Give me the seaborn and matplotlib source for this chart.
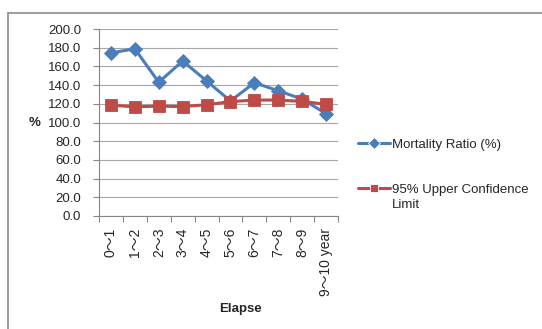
import matplotlib
matplotlib.use("Agg")
import matplotlib.pyplot as plt
from matplotlib.lines import Line2D
import seaborn as sns
import pandas as pd
import numpy as np

categories = ["0～1", "1～2", "2～3", "3～4", "4～5", "5～6", "6～7", "7～8", "8～9", "9～10 year"]
mortality_ratio = [174.5, 178.8, 143.0, 165.8, 144.5, 123.0, 142.5, 134.0, 125.0, 109.5]
upper_limit = [118.5, 116.8, 117.5, 117.0, 119.0, 122.3, 124.0, 124.0, 122.5, 119.5]
series_names = ["Mortality Ratio (%)", "95% Upper Confidence Limit"]

sns.set_theme(style="white")
plt.rcParams['font.family'] = ['Liberation Sans', 'Noto Sans CJK JP', 'DejaVu Sans']

df = pd.DataFrame({
    "x": list(range(len(categories))) * 2,
    "value": mortality_ratio + upper_limit,
    "series": [series_names[0]] * len(categories) + [series_names[1]] * len(categories),
})

W, H = 542, 329
fig = plt.figure(figsize=(W / 100, H / 100), dpi=100)
ax = fig.add_axes([99 / W, 1 - 216 / H, (338 - 99) / W, (216 - 29) / H])

palette = {series_names[0]: "#4A7EBB", series_names[1]: "#BE4B48"}
sns.lineplot(data=df, x="x", y="value", hue="series", style="series",
             markers={series_names[0]: "D", series_names[1]: "s"},
             dashes=False, palette=palette, sort=False, ax=ax,
             linewidth=2.2, markeredgewidth=0.6, legend=True)
for line, ms in zip(ax.get_lines()[:2], [7, 8.5]):
    line.set_markersize(ms)
    line.set_markeredgecolor(line.get_color())

ax.set_ylim(0, 200)
yt = np.arange(0, 201, 20)
ax.set_yticks(yt)
ax.set_yticklabels([f"{v:.1f}" for v in yt], fontsize=9.5)
ax.set_xlim(-0.5, len(categories) - 0.5)
ax.set_xticks(range(len(categories)))
ax.set_xticklabels(categories, rotation=90, fontsize=10)
ax.set_xticks(np.arange(-0.5, len(categories), 1), minor=True)
ax.tick_params(axis="x", which="major", length=0, pad=8.5)
ax.tick_params(axis="x", which="minor", length=4.5, width=0.8, color="#868686", direction="out", bottom=True)
ax.tick_params(axis="y", length=4.3, width=0.8, color="#868686", direction="out", left=True, pad=8.6)

ax.grid(axis="y", color="#A6A6A6", linewidth=0.8)
ax.set_axisbelow(True)
for s in ["top", "right"]:
    ax.spines[s].set_visible(False)
for s in ["left", "bottom"]:
    ax.spines[s].set_color("#868686")
    ax.spines[s].set_linewidth(0.8)

ax.set_xlabel("Elapse", fontsize=9.5, fontweight="bold")
ax.xaxis.label.set_va("center")
ax.xaxis.set_label_coords((240 - 99) / 239, (216 - 309) / 187)
ax.set_ylabel("%", fontsize=9.5, fontweight="bold", rotation=0, ha="center", va="center")
ax.yaxis.set_label_coords((35 - 99) / 239, (216 - 123) / 187)

handles, labels = ax.get_legend_handles_labels()
leg_labels = ["Mortality Ratio (%)", "95% Upper Confidence"]
leg = ax.legend(handles, leg_labels, loc="upper left", bbox_to_anchor=(353 / W, 1 - 133 / H),
                bbox_transform=fig.transFigure, frameon=False, fontsize=9.5,
                handlelength=2.4, handletextpad=0.15, labelspacing=2.5,
                borderaxespad=0)
fig.text(392 / W, 1 - 205 / H, "Limit", fontsize=9.5, ha="left", va="center")

fig.add_artist(Line2D([8 / W, 8 / W], [0, 1 - 12.5 / H], transform=fig.transFigure,
                      color="#8C8C8C", linewidth=1.2))
fig.add_artist(Line2D([8 / W, 1], [1 - 12.5 / H, 1 - 12.5 / H], transform=fig.transFigure,
                      color="#8C8C8C", linewidth=1.2))

fig.savefig("out.png", dpi=100)
